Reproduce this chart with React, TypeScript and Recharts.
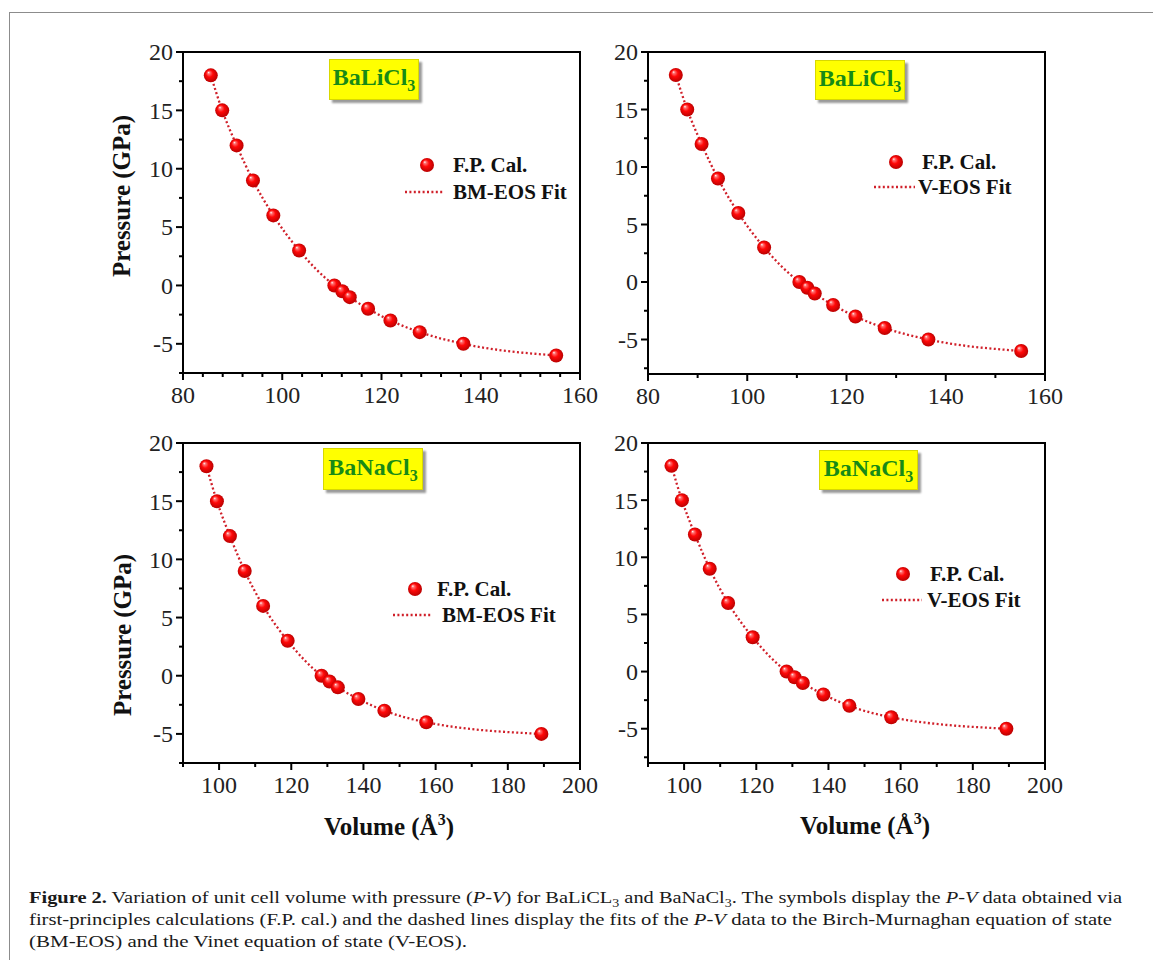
import React from "react";
import { ComposedChart, Scatter, Line, XAxis, YAxis } from "recharts";

const FONT = '"Liberation Serif", "Times New Roman", serif';

// BaLiCl3: volume (Å^3) vs pressure (GPa)
const liVolume = [85.6, 87.9, 90.8, 94.1, 98.2, 103.4, 110.5, 112.1, 113.6, 117.3, 121.8, 127.7, 136.5, 155.2];
const liPressure = [18, 15, 12, 9, 6, 3, 0, -0.5, -1, -2, -3, -4, -5, -6];
// BaNaCl3
const naVolume = [96.5, 99.4, 103.0, 107.1, 112.2, 119.0, 128.4, 130.6, 132.9, 138.6, 145.8, 157.4, 189.3];
const naPressure = [18, 15, 12, 9, 6, 3, 0, -0.5, -1, -2, -3, -4, -5];

// tick labels (majors get a label, the rest are minor ticks)
const xTicksLiBM = [80, 84, 88, 92, 96, 100, 104, 108, 112, 116, 120, 124, 128, 132, 136, 140, 144, 148, 152, 156, 160];
const xTicksLiV = [80, 90, 100, 110, 120, 130, 140, 150, 160];
const xTicksNa = [90, 100, 110, 120, 130, 140, 150, 160, 170, 180, 190, 200];
const yTicks = [-7.5, -5, -2.5, 0, 2.5, 5, 7.5, 10, 12.5, 15, 17.5, 20];

const toRows = (v: number[], p: number[]) => v.map((x, i) => ({ v: x, p: p[i] }));

const YTick = (props: any) => {
  const { x, y, payload } = props;
  const major = Math.abs(payload.value % 5) < 1e-6;
  return (
    <g>
      <line x1={x} x2={x - (major ? 7 : 4)} y1={y} y2={y} stroke="#000" strokeWidth={2} />
      {major && (
        <text x={x - 10} y={y} dy="0.35em" textAnchor="end" fontFamily={FONT} fontSize={24} fill="#222">
          {payload.value}
        </text>
      )}
    </g>
  );
};

const XTick = (props: any) => {
  const { x, y, payload } = props;
  const major = payload.value % 20 === 0;
  return (
    <g>
      <line x1={x} x2={x} y1={y} y2={y + (major ? 7 : 4)} stroke="#000" strokeWidth={2} />
      {major && (
        <text x={x} y={y + 30} textAnchor="middle" fontFamily={FONT} fontSize={24} fill="#222">
          {payload.value}
        </text>
      )}
    </g>
  );
};

const Ball = (props: any) => <circle cx={props.cx} cy={props.cy} r={7} fill="url(#ballGrad)" />;

type PanelProps = {
  L: number; T: number; R: number; B: number;
  vol: number[]; pres: number[];
  xDomain: [number, number]; xTicks: number[]; yDomain: [number, number];
};

const axisStroke = { stroke: "#000", strokeWidth: 2 };

function Panel({ L, T, R, B, vol, pres, xDomain, xTicks, yDomain }: PanelProps) {
  const rows = toRows(vol, pres);
  return (
    <div style={{ position: "absolute", left: L - 80, top: T - 20, width: R - L + 100, height: B - T + 70 }}>
      {/* plot box */}
      <svg style={{ position: "absolute", left: 0, top: 0 }} width={R - L + 100} height={B - T + 70}>
        <rect x={80} y={20} width={R - L} height={B - T} fill="none" stroke="#000" strokeWidth={2} />
      </svg>
      <div style={{ position: "absolute", left: 0, top: 0 }}>
        <ComposedChart width={R - L + 100} height={B - T + 70} data={rows}
          margin={{ top: 20, right: 20, bottom: 0, left: 0 }}>
          <XAxis dataKey="v" type="number" domain={xDomain} ticks={xTicks} interval={0} height={50}
            tickSize={0} tickMargin={0} tickLine={false} tick={<XTick />} allowDataOverflow axisLine={axisStroke} />
          <YAxis dataKey="p" type="number" domain={yDomain} ticks={yTicks} interval={0} width={80}
            tickSize={0} tickMargin={0} tickLine={false} tick={<YTick />} allowDataOverflow axisLine={axisStroke} />
          <Line dataKey="p" type="monotone" stroke="#d0202a" strokeWidth={2.3} strokeDasharray="2 2.4"
            dot={false} activeDot={false} isAnimationActive={false} />
          <Scatter data={rows} dataKey="p" shape={<Ball />} isAnimationActive={false} />
        </ComposedChart>
      </div>
    </div>
  );
}

function TitleBox({ x, y, w, h, name }: { x: number; y: number; w: number; h: number; name: string }) {
  return (
    <div style={{
      position: "absolute", left: x, top: y, width: w, height: h, boxSizing: "border-box",
      background: "#ffff00", border: "1px solid #d8d800", boxShadow: "3px 3px 2px #9a9a9a",
      display: "flex", alignItems: "center", justifyContent: "center",
      fontFamily: FONT, fontWeight: "bold", fontSize: 24, color: "#178a17",
    }}>
      <span>{name}<sub style={{ fontSize: 16 }}>3</sub></span>
    </div>
  );
}

function LegendBox({ mx, my, tx1, lx1, lx2, ly, tx2, fit }: any) {
  const txt: React.CSSProperties = {
    position: "absolute", fontFamily: FONT, fontWeight: "bold", fontSize: 21, color: "#111",
    whiteSpace: "nowrap", transform: "translateY(-50%)",
  };
  return (
    <>
      <svg style={{ position: "absolute", left: mx - 8, top: my - 8 }} width={16} height={16}>
        <circle cx={8} cy={8} r={7} fill="url(#ballGrad)" />
      </svg>
      <div style={{ ...txt, left: tx1, top: my }}>F.P. Cal.</div>
      <svg style={{ position: "absolute", left: lx1, top: ly - 3 }} width={lx2 - lx1} height={6}>
        <line x1={0} x2={lx2 - lx1} y1={3} y2={3} stroke="#d0202a" strokeWidth={2.3} strokeDasharray="2 2.4" />
      </svg>
      <div style={{ ...txt, left: tx2, top: ly }}>{fit}</div>
    </>
  );
}

const yLabel = (cx: number, cy: number) => (
  <div style={{
    position: "absolute", left: cx, top: cy, transform: "translate(-50%,-50%) rotate(-90deg)",
    fontFamily: FONT, fontWeight: "bold", fontSize: 25, color: "#111", whiteSpace: "nowrap",
  }}>Pressure (GPa)</div>
);

const xLabel = (cx: number, cy: number) => (
  <div style={{
    position: "absolute", left: cx, top: cy, transform: "translate(-50%,-50%)",
    fontFamily: FONT, fontWeight: "bold", fontSize: 25, color: "#111", whiteSpace: "nowrap",
  }}>Volume (Å<sup style={{ fontSize: 16 }}>3</sup>)</div>
);

export default function App() {
  return (
    <div style={{ position: "absolute", left: 0, top: 0, width: 1153, height: 960, background: "#fff", overflow: "hidden" }}>
      <svg width={0} height={0} style={{ position: "absolute" }}>
        <defs>
          <radialGradient id="ballGrad" cx="50%" cy="50%" r="55%" fx="33%" fy="28%">
            <stop offset="0%" stopColor="#ffffff" />
            <stop offset="16%" stopColor="#ff7070" />
            <stop offset="45%" stopColor="#ff0808" />
            <stop offset="100%" stopColor="#b00000" />
          </radialGradient>
        </defs>
      </svg>
      <div style={{ position: "absolute", left: 9, top: 12, width: 1170, height: 990, border: "1.5px solid #8c8c8c" }} />

      <Panel L={183} T={52} R={580} B={373} vol={liVolume} pres={liPressure}
        xDomain={[80, 160]} xTicks={xTicksLiBM} yDomain={[-7.5, 20]} />
      <Panel L={648} T={52} R={1045} B={374} vol={liVolume} pres={liPressure}
        xDomain={[80, 160]} xTicks={xTicksLiV} yDomain={[-8, 20]} />
      <Panel L={183} T={443} R={580} B={763} vol={naVolume} pres={naPressure}
        xDomain={[90, 200]} xTicks={xTicksNa} yDomain={[-7.5, 20]} />
      <Panel L={648} T={443} R={1045} B={763} vol={naVolume} pres={naPressure}
        xDomain={[90, 200]} xTicks={xTicksNa} yDomain={[-8, 20]} />

      <TitleBox x={329} y={59} w={90} h={41} name="BaLiCl" />
      <TitleBox x={815} y={60} w={90} h={40} name="BaLiCl" />
      <TitleBox x={323} y={448} w={100} h={42} name="BaNaCl" />
      <TitleBox x={819} y={450} w={99} h={40} name="BaNaCl" />

      <LegendBox mx={427} my={165} tx1={453} lx1={405} lx2={443} ly={192} tx2={453} fit="BM-EOS Fit" />
      <LegendBox mx={896} my={162} tx1={922} lx1={874} lx2={915} ly={187} tx2={918} fit="V-EOS Fit" />
      <LegendBox mx={415} my={589} tx1={437} lx1={393} lx2={432} ly={615} tx2={442} fit="BM-EOS Fit" />
      <LegendBox mx={903} my={574} tx1={930} lx1={882} lx2={922} ly={600} tx2={927} fit="V-EOS Fit" />

      {yLabel(122, 196)}
      {yLabel(123, 635)}
      {xLabel(389, 826)}
      {xLabel(865, 825)}

      <svg style={{ position: "absolute", left: 0, top: 880 }} width={1153} height={80}>
        <g fontFamily={FONT} fontSize={17.5} fill="#1a1a1a">
          <text x={29} y={23} textLength={1093} lengthAdjust="spacingAndGlyphs">
            <tspan fontWeight="bold">Figure 2.</tspan> Variation of unit cell volume with pressure (<tspan fontStyle="italic">P-V</tspan>) for BaLiCL<tspan fontSize={12} dy={4}>3</tspan><tspan dy={-4}> and BaNaCl</tspan><tspan fontSize={12} dy={4}>3</tspan><tspan dy={-4}>. The symbols display the </tspan><tspan fontStyle="italic">P-V</tspan> data obtained via
          </text>
          <text x={29} y={45} textLength={1083} lengthAdjust="spacingAndGlyphs">
            first-principles calculations (F.P. cal.) and the dashed lines display the fits of the <tspan fontStyle="italic">P-V</tspan> data to the Birch-Murnaghan equation of state
          </text>
          <text x={29} y={67} textLength={438} lengthAdjust="spacingAndGlyphs">
            (BM-EOS) and the Vinet equation of state (V-EOS).
          </text>
        </g>
      </svg>
    </div>
  );
}
